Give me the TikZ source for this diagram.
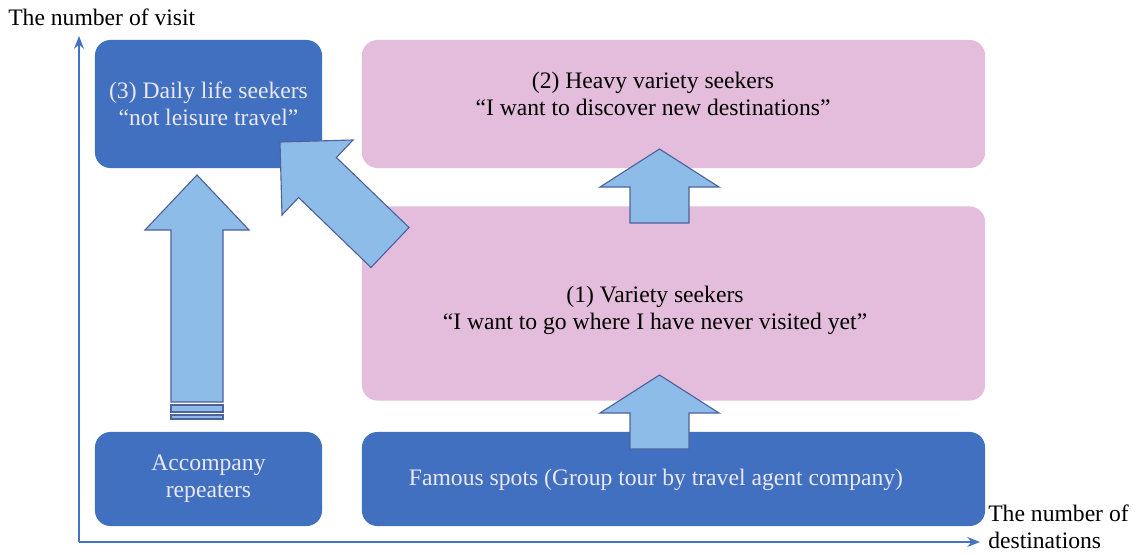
\documentclass[tikz,border=0pt]{standalone}
\usepackage{fontspec}
\setmainfont{Liberation Serif}
\usetikzlibrary{arrows.meta}

\definecolor{boxblue}{RGB}{66,112,192}
\definecolor{boxpink}{RGB}{227,189,219}
\definecolor{arrowfill}{RGB}{142,188,232}
\definecolor{arrowline}{RGB}{78,98,158}
\definecolor{axisblue}{RGB}{68,114,196}
\definecolor{paletext}{RGB}{234,232,244}

\begin{document}
\begin{tikzpicture}[x=0.025cm,y=-0.025cm,
	font=\fontsize{16.8}{19.3}\selectfont,
	darkbox/.style={fill=boxblue,rounded corners=11pt,inner sep=0pt,text=paletext,align=center},
	pinkbox/.style={fill=boxpink,rounded corners=11pt,inner sep=0pt},
	blockarrow/.style={fill=arrowfill,draw=arrowline,line width=0.8pt,line join=miter},
	axis/.style={draw=axisblue,line width=2pt,-{Stealth[length=9pt,width=7pt]}}]

	\useasboundingbox (0,0) rectangle (1136,554);

	% axes
	\coordinate (O) at (79,542);
	\coordinate (ytop) at (79,36);
	\coordinate (xend) at (980,542);
	\draw[axis] (O) -- (ytop);
	\draw[axis] (O) -- (xend);
	\node[anchor=west,inner sep=0pt] (ylabel) at (8,17) {The number of visit};
	\node[anchor=west,inner sep=0pt,align=left] (xlabel) at (988,527) {The number of\\destinations};

	% boxes
	\node[darkbox,minimum width=5.675cm,minimum height=3.2cm] (daily) at (208.5,104)
		{(3) Daily life seekers\\“not leisure travel”};
	\node[pinkbox,minimum width=15.575cm,minimum height=3.2cm] (heavy) at (673.5,104) {};
	\node[pinkbox,minimum width=15.575cm,minimum height=4.85cm] (variety) at (673.5,303.5) {};
	\node[darkbox,minimum width=5.675cm,minimum height=2.35cm] (accomp) at (208.5,479)
		{Accompany\\repeaters};
	\node[darkbox,minimum width=15.575cm,minimum height=2.35cm] (famous) at (673.5,479) {};

	\node[align=center] (heavytxt) at (653,94) {(2) Heavy variety seekers\\“I want to discover new destinations”};
	\node[align=center] (varietytxt) at (655,310) {(1) Variety seekers\\“I want to go where I have never visited yet”};
	\node[text=paletext] (famoustxt) at (656,480) {Famous spots (Group tour by travel agent company)};

	% block arrows
	\draw[blockarrow] (630,449) -- (630,413) -- (600,413) -- (659.5,375) -- (719,413) -- (689,413) -- (689,449) -- cycle;
	\draw[blockarrow] (630,223) -- (630,187) -- (600,187) -- (659.5,149) -- (719,187) -- (689,187) -- (689,223) -- cycle;
	\draw[blockarrow] (171,402) -- (171,230) -- (145,230) -- (197,175) -- (249,230) -- (223,230) -- (223,402) -- cycle;
	\draw[blockarrow] (171,405) rectangle (223,412);
	\draw[blockarrow] (171,415) rectangle (223,419);
	\draw[blockarrow] (371,267.5) -- (298.6,197.5) -- (282,215) -- (280,142) -- (353,140) -- (336.4,157.5) -- (409,227.5) -- cycle;
\end{tikzpicture}
\end{document}
